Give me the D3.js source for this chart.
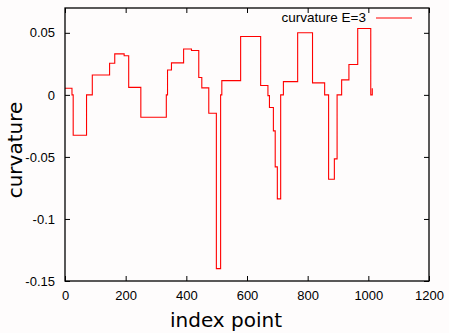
<!DOCTYPE html>
<html><head><meta charset="utf-8">
<script src="https://cdn.jsdelivr.net/npm/d3@7"></script>
<style>
html,body{margin:0;padding:0;background:#fefcfc;}
svg{display:block;}
</style></head>
<body>
<svg id="c" width="449" height="333"></svg>
<script>
// index point where each step begins
const indexPoints = [0, 23, 27, 71, 90, 147, 164, 195, 210, 250, 334, 338, 351, 391, 417, 441, 451, 474, 499, 513, 517, 579, 645, 669, 674, 687, 693, 700, 711, 720, 767, 816, 856, 869, 888, 897, 912, 936, 965, 1008, 1013];
// curvature value of each step
const curvature = [0.0053, 0.0, -0.0325, 0.0, 0.016, 0.0255, 0.033, 0.0315, 0.006, -0.018, 0.0, 0.020, 0.0258, 0.037, 0.0357, 0.014, 0.0056, -0.0148, -0.14, 0.0, 0.0115, 0.047, 0.0075, -0.0006, -0.0102, -0.029, -0.058, -0.0838, 0.0, 0.0107, 0.050, 0.0097, 0.0, -0.068, -0.0516, 0.0, 0.0121, 0.0245, 0.0535, 0.0, 0.0053];
const xTicks = [0, 200, 400, 600, 800, 1000, 1200];
const yTicks = [-0.15, -0.1, -0.05, 0, 0.05];
const yTickLabels = ["-0.15", "-0.1", "-0.05", "0", "0.05"];
const seriesName = "curvature E=3";

const M = {left: 65, top: 8, right: 20, bottom: 52};
const W = 449, H = 333;
const iw = W - M.left - M.right, ih = H - M.top - M.bottom;
const svg = d3.select("#c");
const g = svg.append("g").attr("transform", `translate(${M.left},${M.top})`);

const x = d3.scaleLinear().domain([0, 1200]).range([0, iw]);
const y = d3.scaleLinear().domain([-0.15, 0.07]).range([ih, 0]);

const tickFont = "'Liberation Sans', Arial, sans-serif";

function styleAxis(sel){
  sel.select(".domain").remove();
  sel.selectAll(".tick line").attr("stroke", "#000").attr("stroke-width", 1);
  sel.selectAll("text").attr("font-family", tickFont).attr("font-size", 13).attr("fill", "#000");
}

// bottom
g.append("g").attr("transform", `translate(0,${ih})`)
  .call(d3.axisBottom(x).tickValues(xTicks).tickFormat(d3.format("d")).tickSizeInner(-5).tickSizeOuter(0).tickPadding(10))
  .call(styleAxis);
// top mirror
g.append("g")
  .call(d3.axisTop(x).tickValues(xTicks).tickFormat("").tickSizeInner(-5).tickSizeOuter(0))
  .call(styleAxis);
// left
g.append("g")
  .call(d3.axisLeft(y).tickValues(yTicks).tickFormat((d,i)=>yTickLabels[i]).tickSizeInner(-5).tickSizeOuter(0).tickPadding(10))
  .call(styleAxis);
// right mirror
g.append("g").attr("transform", `translate(${iw},0)`)
  .call(d3.axisRight(y).tickValues(yTicks).tickFormat("").tickSizeInner(-5).tickSizeOuter(0))
  .call(styleAxis);

// data line
const pts = indexPoints.map((d,i)=>[d, curvature[i]]);
g.append("path").datum(pts)
  .attr("fill", "none").attr("stroke", "#ff0000").attr("stroke-width", 1.1)
  .attr("d", d3.line().x(d=>x(d[0])).y(d=>y(d[1])).curve(d3.curveStepAfter));

// frame
g.append("rect").attr("x",0).attr("y",0).attr("width",iw).attr("height",ih)
  .attr("fill","none").attr("stroke","#000").attr("stroke-width",1.3);

// legend
g.append("text").attr("x", 301).attr("y", 14).attr("text-anchor","end")
  .attr("font-family", tickFont).attr("font-size", 13.5).attr("fill","#000").text(seriesName);
g.append("line").attr("x1", 311).attr("x2", 347).attr("y1", 10).attr("y2", 10)
  .attr("stroke","#ff0000").attr("stroke-width",1.1);

// axis titles
svg.append("text").attr("x", 226).attr("y", 327).attr("text-anchor","middle")
  .attr("font-family","'DejaVu Sans', sans-serif").attr("font-size",20).attr("fill","#000").text("index point");
svg.append("text").attr("transform","translate(22,150) rotate(-90)").attr("text-anchor","middle")
  .attr("font-family","'DejaVu Sans', sans-serif").attr("font-size",20).attr("fill","#000").text("curvature");
</script>
</body></html>
